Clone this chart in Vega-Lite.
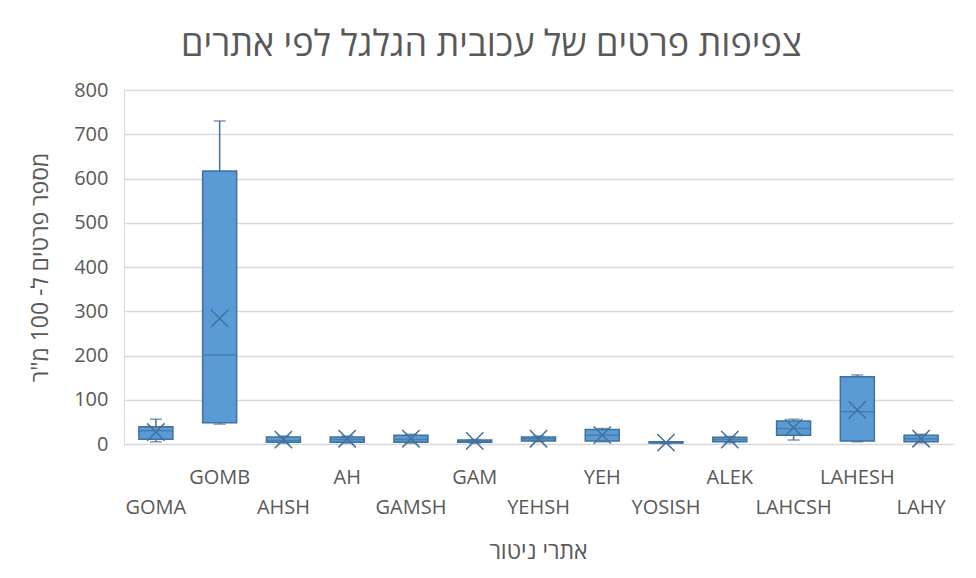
{
  "$schema": "https://vega.github.io/schema/vega-lite/v6.json",
  "width": 829,
  "height": 354,
  "autosize": {"type": "none"},
  "padding": {"left": 124, "top": 90, "right": 23, "bottom": 134},
  "background": "white",
  "config": {
    "font": "Open Sans",
    "view": {"stroke": null},
    "axis": {"labelColor": "#595959", "titleColor": "#595959", "titleFontWeight": "normal"}
  },
  "title": {
    "text": "צפיפות פרטים של עכובית הגלגל לפי אתרים",
    "fontSize": 36,
    "fontWeight": "normal",
    "color": "#595959",
    "anchor": "middle",
    "dx": -47,
    "offset": 16,
    "font": "Open Sans"
  },
  "data": {
    "values": [
      {"site": "GOMA", "min": 5, "q1": 11, "median": 30, "q3": 39, "max": 56, "mean": 27},
      {"site": "GOMB", "min": 45, "q1": 48, "median": 201, "q3": 617, "max": 730, "mean": 284},
      {"site": "AHSH", "min": 2, "q1": 4, "median": 8, "q3": 16, "max": 18, "mean": 10},
      {"site": "AH", "min": 2, "q1": 4, "median": 10, "q3": 16, "max": 18, "mean": 12},
      {"site": "GAMSH", "min": 2, "q1": 4, "median": 10, "q3": 20, "max": 22, "mean": 12},
      {"site": "GAM", "min": 2, "q1": 4, "median": 6, "q3": 9, "max": 10, "mean": 7},
      {"site": "YEHSH", "min": 5, "q1": 7, "median": 12, "q3": 16, "max": 18, "mean": 12},
      {"site": "YEH", "min": 5, "q1": 7, "median": 20, "q3": 33, "max": 35, "mean": 20},
      {"site": "YOSISH", "min": 1, "q1": 2, "median": 3, "q3": 5, "max": 5, "mean": 3},
      {"site": "ALEK", "min": 3, "q1": 5, "median": 10, "q3": 15, "max": 17, "mean": 10},
      {"site": "LAHCSH", "min": 9, "q1": 20, "median": 35, "q3": 52, "max": 56, "mean": 37},
      {"site": "LAHESH", "min": 5, "q1": 7, "median": 73, "q3": 152, "max": 156, "mean": 77},
      {"site": "LAHY", "min": 3, "q1": 5, "median": 12, "q3": 20, "max": 22, "mean": 12}
    ]
  },
  "encoding": {
    "x": {
      "field": "site",
      "type": "nominal",
      "sort": null,
      "scale": {"paddingInner": 0, "paddingOuter": 0},
      "axis": {
        "title": "אתרי ניטור",
        "titleFontSize": 23,
        "titleX": 414,
        "titleY": 107,
        "titleBaseline": "middle",
        "labelAngle": 0,
        "labelFontSize": 20,
        "labelBaseline": "top",
        "labelOverlap": false,
        "labelPadding": {
          "condition": {"test": "indexof(['GOMB','AH','GAM','YEH','ALEK','LAHESH'], datum.value) >= 0", "value": 23},
          "value": 53
        },
        "ticks": false,
        "domainColor": "#D9D9D9",
        "grid": false
      }
    }
  },
  "layer": [
    {
      "mark": {"type": "rule", "color": "#41719C", "strokeWidth": 1.5},
      "encoding": {
        "y": {
          "field": "min",
          "type": "quantitative",
          "scale": {"domain": [0, 800]},
          "axis": {
            "title": "מספר פרטים ל- 100 מ\"ר",
            "titleFontSize": 23,
            "titleAngle": -90,
            "titleX": -84,
            "titleY": 177,
            "titleAlign": "center",
            "titleBaseline": "middle",
            "values": [0, 100, 200, 300, 400, 500, 600, 700, 800],
            "labelFontSize": 20,
            "labelPadding": 16,
            "ticks": false,
            "domainColor": "#D9D9D9",
            "gridColor": "#D9D9D9",
            "gridWidth": 1.5
          }
        },
        "y2": {"field": "max"}
      }
    },
    {
      "mark": {"type": "tick", "orient": "horizontal", "color": "#41719C", "size": 12, "thickness": 1.5},
      "encoding": {"y": {"field": "max", "type": "quantitative"}}
    },
    {
      "mark": {"type": "tick", "orient": "horizontal", "color": "#41719C", "size": 12, "thickness": 1.5},
      "encoding": {"y": {"field": "min", "type": "quantitative"}}
    },
    {
      "mark": {"type": "bar", "size": 34, "fill": "#5B9BD5", "stroke": "#41719C", "strokeWidth": 1.5},
      "encoding": {
        "y": {"field": "q1", "type": "quantitative"},
        "y2": {"field": "q3"}
      }
    },
    {
      "mark": {"type": "tick", "orient": "horizontal", "color": "#41719C", "size": 34, "thickness": 1.5},
      "encoding": {"y": {"field": "median", "type": "quantitative"}}
    },
    {
      "mark": {"type": "point", "shape": "M-1,-1L1,1M-1,1L1,-1", "filled": false, "color": "#41719C", "strokeWidth": 1.5, "size": 300, "opacity": 1},
      "encoding": {"y": {"field": "mean", "type": "quantitative"}}
    }
  ]
}
